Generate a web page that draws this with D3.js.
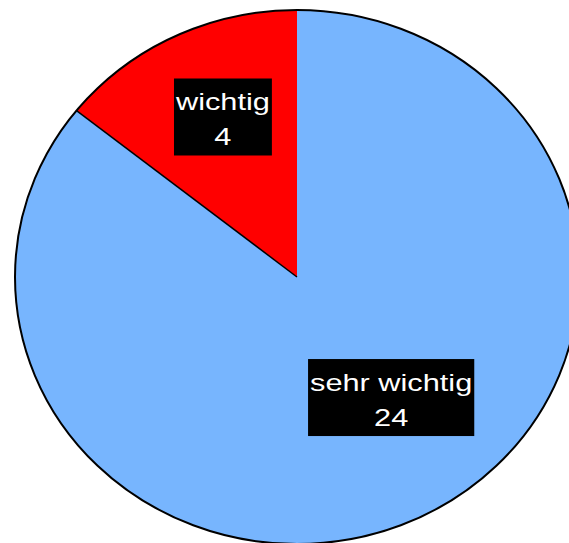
<!DOCTYPE html>
<html>
<head>
<meta charset="utf-8">
<script src="https://cdn.jsdelivr.net/npm/d3@7"></script>
<style>
  html, body { margin: 0; padding: 0; background: #fff; }
  svg { display: block; }
</style>
</head>
<body>
<div id="chart"></div>
<script>
const categories = ['wichtig', 'sehr wichtig'];
const values = [4, 24];
const colors = ['#ff0000', '#77b5fe'];

// label anchor angle (degrees from top, clockwise) and radius fraction
const labelAngles = [23.6, 143.4];
const labelRadius = [0.656, 0.56];

const width = 569, height = 543;
const cx = 297, cy = 277;
const R = 282, ry = 267;

const svg = d3.select('#chart')
    .append('svg')
    .attr('width', width)
    .attr('height', height);

const data = categories.map((c, i) => ({name: c, value: values[i], color: colors[i], idx: i}));

const pie = d3.pie()
    .value((d) => d.value)
    .sort(null)
    .startAngle(0)
    .endAngle(-2 * Math.PI);

const arcs = pie(data);

const arc = d3.arc().innerRadius(0).outerRadius(R);

// pie is slightly squashed vertically
const g = svg.append('g')
    .attr('transform', `translate(${cx},${cy}) scale(1,${ry / R})`);

g.selectAll('path.slice')
    .data(arcs)
    .enter()
    .append('path')
    .attr('class', 'slice')
    .attr('d', arc)
    .attr('fill', (d) => d.data.color);

// outline
g.append('circle')
    .attr('r', R)
    .attr('fill', 'none')
    .attr('stroke', '#000')
    .attr('stroke-width', 2)
    .attr('vector-effect', 'non-scaling-stroke');

// edge between slices on the left
const edgeAngle = arcs[0].endAngle;
g.append('line')
    .attr('x1', 0).attr('y1', 0)
    .attr('x2', R * Math.sin(edgeAngle))
    .attr('y2', -R * Math.cos(edgeAngle))
    .attr('stroke', '#000')
    .attr('stroke-width', 1.5)
    .attr('vector-effect', 'non-scaling-stroke');

// labels
const labels = svg.append('g');
arcs.forEach((d, i) => {
    const a = (i === 0 ? -labelAngles[i] : labelAngles[i]) * Math.PI / 180;
    const r = R * labelRadius[i];
    const lx = cx + r * Math.sin(a);
    const ly = cy - r * Math.cos(a) * ry / R;

    const lg = labels.append('g');
    const rect = lg.append('rect').attr('fill', '#000');
    const lines = [d.data.name, String(d.data.value)];
    const texts = lines.map((t, k) => lg.append('text')
        .attr('x', lx)
        .attr('y', ly + (k === 0 ? -6 : 29))
        .attr('text-anchor', 'middle')
        .attr('fill', '#fff')
        .attr('font-family', 'Liberation Sans, Arial, sans-serif')
        .attr('font-size', 24)
        .text(t));
    const w0 = texts[0].node().getComputedTextLength() * 1.28;
    texts[0].attr('textLength', w0).attr('lengthAdjust', 'spacingAndGlyphs');
    const w1 = texts[1].node().getComputedTextLength() * 1.28;
    texts[1].attr('textLength', w1).attr('lengthAdjust', 'spacingAndGlyphs');
    const bw = Math.max(w0, w1) + 4;
    rect.attr('x', lx - bw / 2)
        .attr('y', ly - 38)
        .attr('width', bw)
        .attr('height', 77);
});
</script>
</body>
</html>
